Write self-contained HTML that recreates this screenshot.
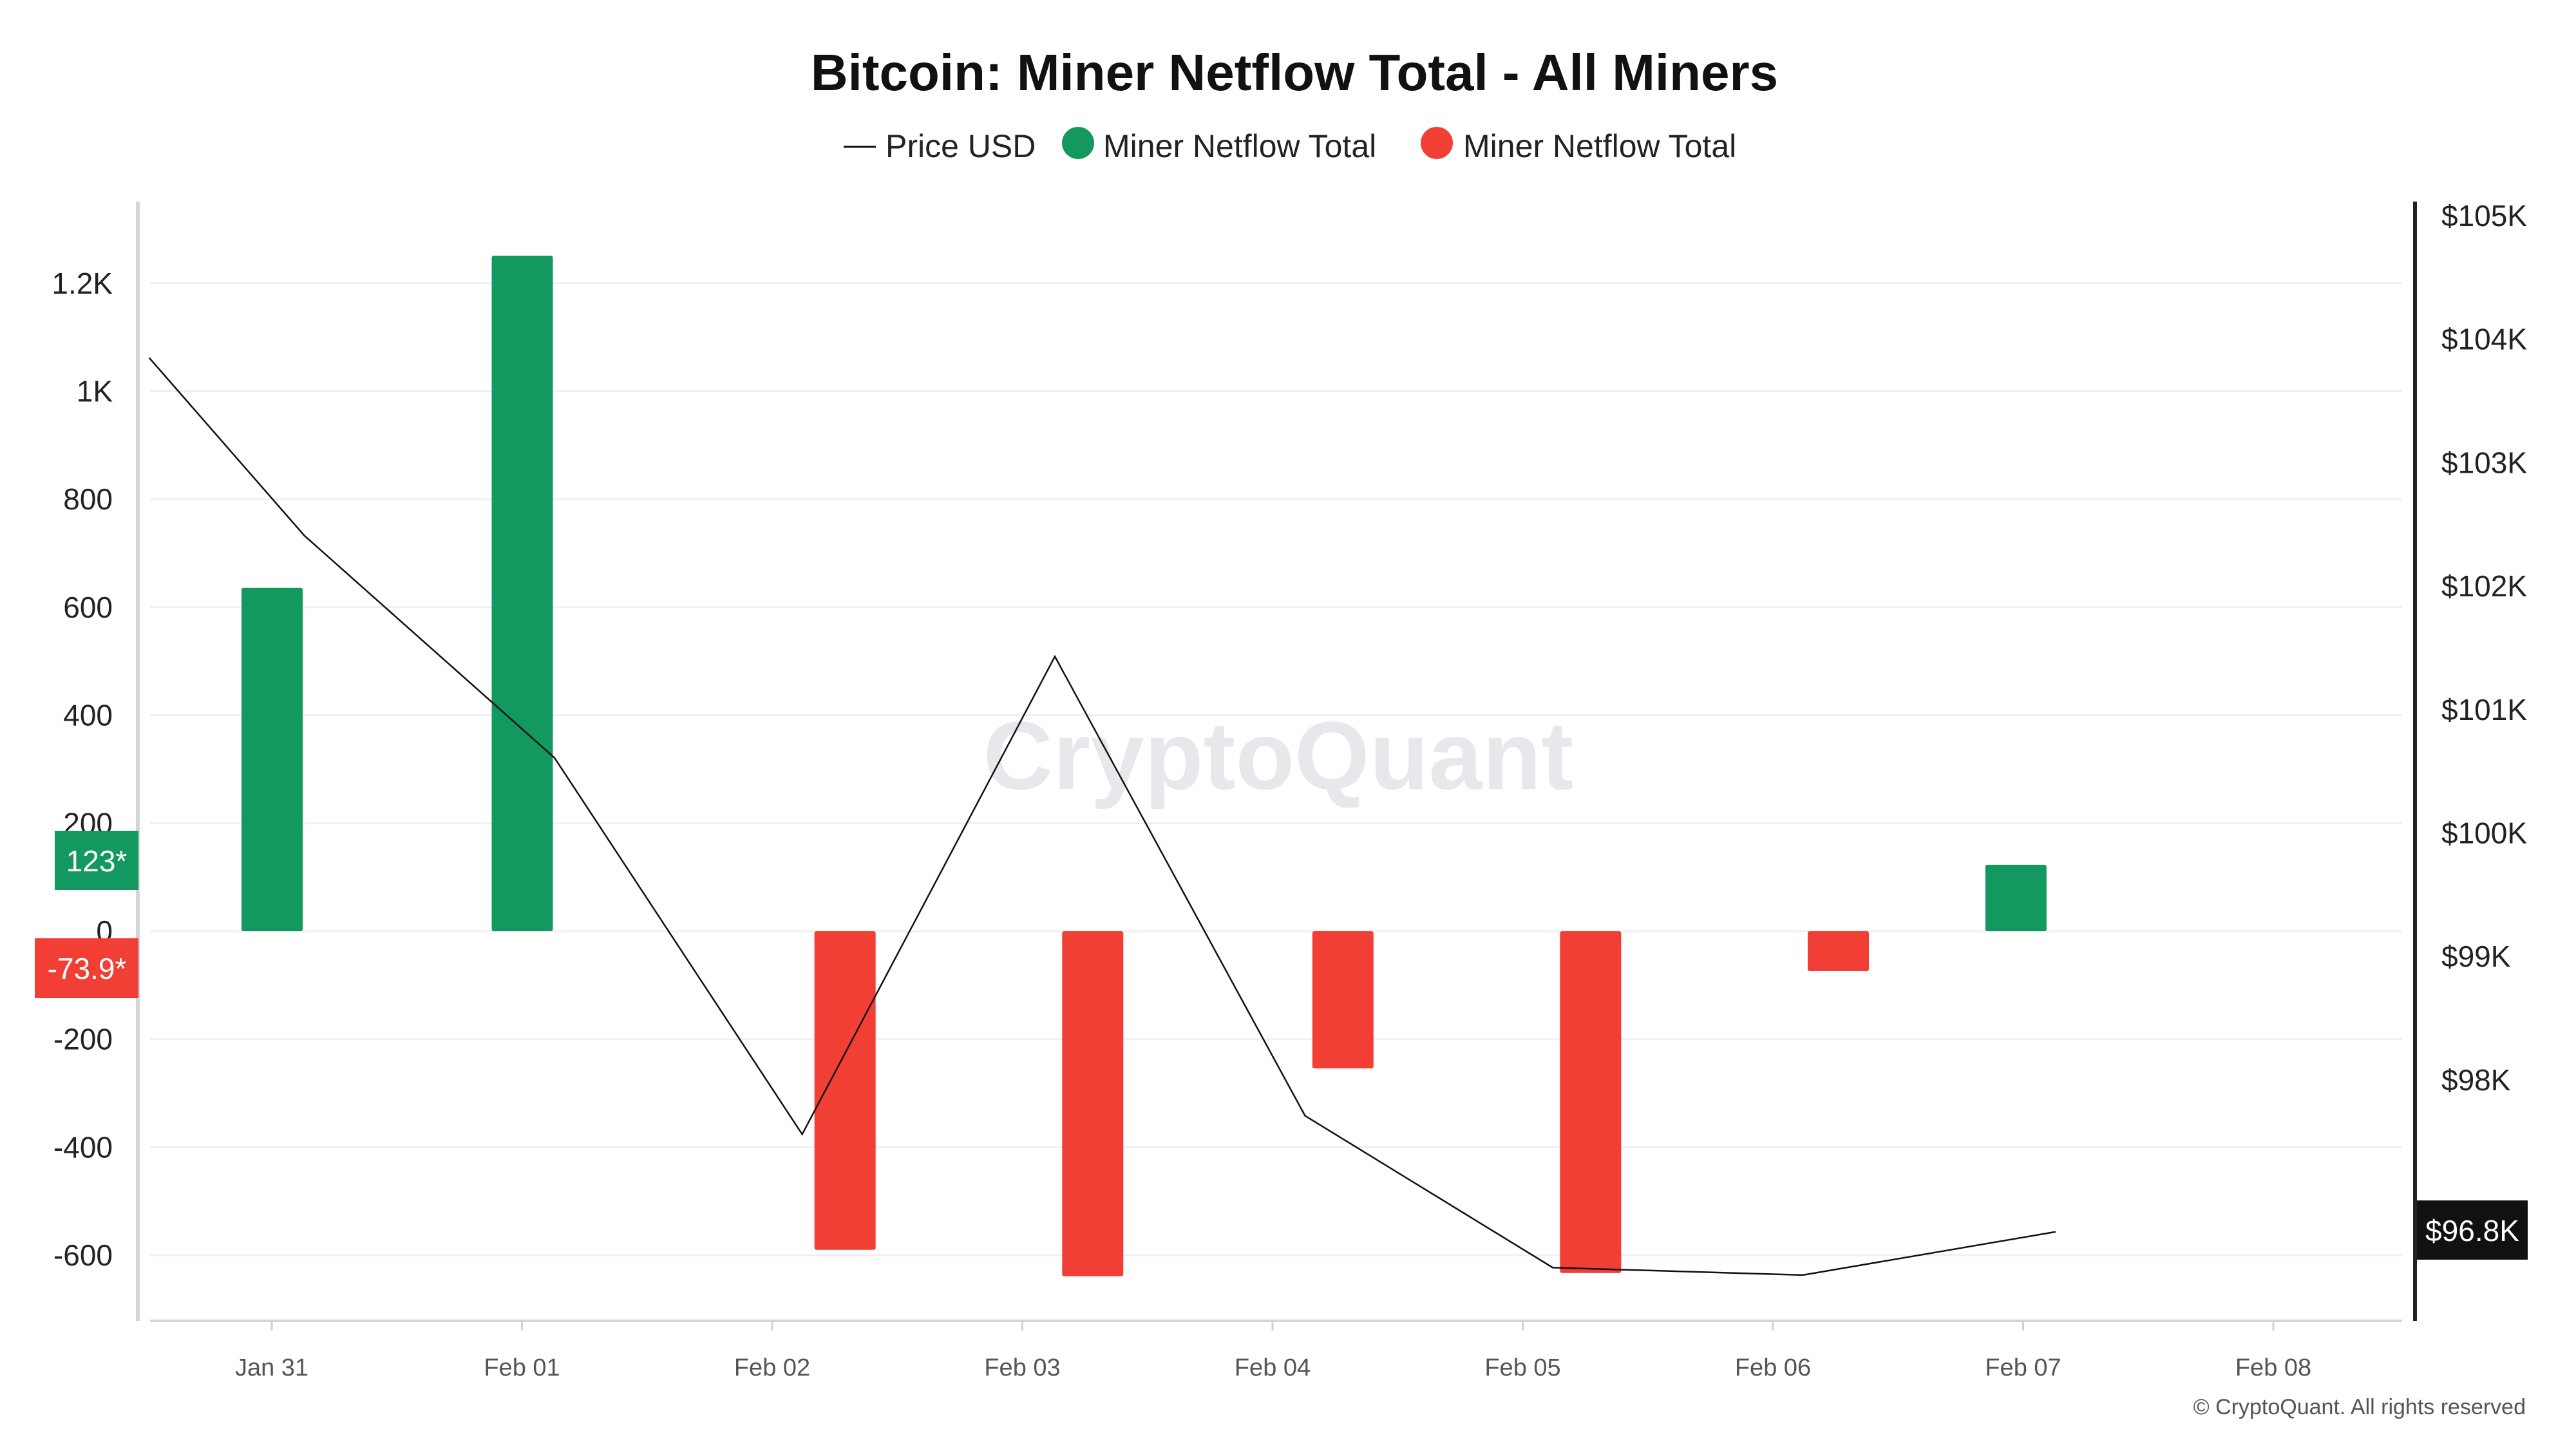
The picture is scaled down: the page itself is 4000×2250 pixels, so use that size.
<!DOCTYPE html>
<html><head><meta charset="utf-8">
<style>
html,body{margin:0;padding:0;background:#fff;}
svg{display:block;font-family:"Liberation Sans",sans-serif;}
</style></head>
<body>
<svg id="chart" width="4000" height="2250" viewBox="0 0 4000 2250" xmlns="http://www.w3.org/2000/svg">
<rect width="4000" height="2250" fill="#fff"/>
<text x="2010" y="140" text-anchor="middle" font-size="80" font-weight="bold" fill="#111">Bitcoin: Miner Netflow Total - All Miners</text>
<g font-size="50" fill="#222">
  <g><line x1="1310" y1="228" x2="1360" y2="228" stroke="#111" stroke-width="3"/><text x="1375" y="244">Price USD</text></g>
  <g><circle cx="1674" cy="222" r="25" fill="#13995f"/><text x="1713" y="244">Miner Netflow Total</text></g>
  <g><circle cx="2231" cy="222" r="25" fill="#f23f35"/><text x="2272" y="244">Miner Netflow Total</text></g>
</g>
<text x="1985" y="1225" text-anchor="middle" font-size="150" font-weight="bold" fill="#e8e8ec">CryptoQuant</text>
<g id="grid"></g>
<g id="bars"></g>
<g id="line"></g>
<g id="axes"></g>
<text x="3922" y="2196" text-anchor="end" font-size="34" fill="#555">© CryptoQuant. All rights reserved</text>
</svg>
<script>
const dates = ["Jan 31","Feb 01","Feb 02","Feb 03","Feb 04","Feb 05","Feb 06","Feb 07","Feb 08"];
const barDay = [0, 1, 2.29, 3.28, 4.28, 5.27, 6.26, 6.97];
const netflow = [636, 1251, -590, -639, -254, -633, -73.9, 123];
const priceDay = [-0.49, 0.13, 1.13, 2.12, 3.13, 4.13, 5.12, 6.12, 7.13];
const price = [103.86, 102.42, 100.62, 97.57, 101.44, 97.72, 96.49, 96.43, 96.78];
const leftTicks = [-600, -400, -200, 0, 200, 400, 600, 800, 1000, 1200];
const leftTickLabels = ["-600","-400","-200","0","200","400","600","800","1K","1.2K"];
const rightTicks = [98, 99, 100, 101, 102, 103, 104, 105];
const NS = "http://www.w3.org/2000/svg";
const X = d => 422 + d * 388.5;
const Y = v => 1446 - v * (167.7 / 200);
const P = p => 337 + (105 - p) * 191.7;
function mk(tag, attrs, parent, txt) {
  const e = document.createElementNS(NS, tag);
  for (const k in attrs) e.setAttribute(k, attrs[k]);
  if (txt !== undefined) e.textContent = txt;
  document.getElementById(parent).appendChild(e);
  return e;
}
leftTicks.forEach((t, i) => {
  const g = mk("line", {x1: 233, x2: 3730, y1: Y(t), y2: Y(t), stroke: "#f0f0f2", "stroke-width": 3}, "grid");
  
  
  const l = mk("text", {x: 175, y: Y(t) + 16, "text-anchor": "end", "font-size": 46, fill: "#222"}, "axes", leftTickLabels[i]);
  
  
});
rightTicks.forEach(t => {
  const l = mk("text", {x: 3791, y: P(t) + 14, "font-size": 46, fill: "#222"}, "axes", "$" + t + "K");
  
  
});
dates.forEach((d, i) => {
  const t = mk("line", {x1: X(i), x2: X(i), y1: 2051, y2: 2066, stroke: "#d0d0d8", "stroke-width": 3}, "axes");
  
  
  const l = mk("text", {x: X(i), y: 2136, "text-anchor": "middle", "font-size": 38, fill: "#555"}, "axes", d);
  
  
});
netflow.forEach((v, i) => {
  const y0 = Y(0), y1 = Y(v);
  const b = mk("rect", {x: X(barDay[i]) - 47, y: Math.min(y0, y1), width: 95, height: Math.abs(y1 - y0), rx: 3, fill: v >= 0 ? "#13995f" : "#f23f35"}, "bars");
  
  
});
const pts = price.map((p, i) => X(priceDay[i]) + "," + P(p)).join(" ");
const pl = mk("polyline", {points: pts, fill: "none", stroke: "#111", "stroke-width": 2.5}, "line");


const la = mk("line", {x1: 214, x2: 214, y1: 313, y2: 2051, stroke: "#d4d4dc", "stroke-width": 6}, "axes");


const ba = mk("line", {x1: 233, x2: 3730, y1: 2051, y2: 2051, stroke: "#d4d4dc", "stroke-width": 4}, "axes");


const ra = mk("line", {x1: 3750, x2: 3750, y1: 313, y2: 2051, stroke: "#222", "stroke-width": 6}, "axes");


const gb = mk("rect", {x: 85, y: 1290, width: 130, height: 92, fill: "#13995f"}, "axes");


const gt = mk("text", {x: 150, y: 1353, "text-anchor": "middle", "font-size": 46, fill: "#fff"}, "axes", netflow[7] + "*");


const rb = mk("rect", {x: 54, y: 1457, width: 161, height: 93, fill: "#f23f35"}, "axes");


const rt = mk("text", {x: 135, y: 1520, "text-anchor": "middle", "font-size": 46, fill: "#fff"}, "axes", netflow[6] + "*");


const pb = mk("rect", {x: 3753, y: 1864, width: 172, height: 92, fill: "#111"}, "axes");


const pt = mk("text", {x: 3839, y: 1927, "text-anchor": "middle", "font-size": 46, fill: "#fff"}, "axes", "$96.8K");


</script>
</body></html>
